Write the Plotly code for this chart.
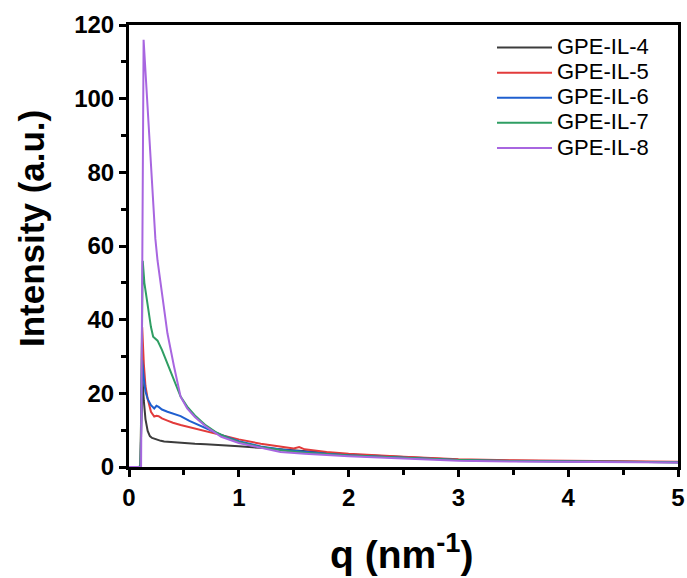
import plotly.graph_objects as go

q_il4 = [0, 0.09, 0.105, 0.12, 0.135, 0.15, 0.17, 0.19, 0.21, 0.25, 0.29, 0.32, 0.36, 0.40, 0.45, 0.50, 0.55, 0.60, 0.70, 0.84, 1.0, 1.2, 1.4, 1.6, 1.8, 2.0, 2.5, 3.0, 3.5, 4.0, 4.5, 5.0]
i_il4 = [0, 0, 0.3, 25, 18, 13, 9.8, 8.4, 7.9, 7.4, 7.1, 6.9, 6.8, 6.7, 6.6, 6.5, 6.4, 6.3, 6.2, 6.0, 5.6, 5.2, 4.7, 4.2, 3.8, 3.4, 2.7, 2.0, 1.7, 1.5, 1.4, 1.3]

q_il5 = [0, 0.09, 0.105, 0.12, 0.135, 0.15, 0.17, 0.20, 0.23, 0.25, 0.27, 0.30, 0.35, 0.40, 0.47, 0.55, 0.66, 0.75, 0.84, 1.0, 1.2, 1.4, 1.5, 1.55, 1.6, 1.8, 2.0, 2.5, 3.0, 3.5, 4.0, 4.5, 5.0]
i_il5 = [0, 0, 0.3, 38, 28, 22, 18.5, 15, 13.7, 13.9, 13.8, 13.2, 12.6, 12.0, 11.4, 10.8, 10.0, 9.2, 8.5, 7.5, 6.3, 5.4, 5.0, 5.4, 4.8, 4.1, 3.6, 2.8, 2.1, 1.8, 1.6, 1.5, 1.4]

q_il6 = [0, 0.09, 0.105, 0.12, 0.135, 0.15, 0.17, 0.20, 0.23, 0.25, 0.27, 0.30, 0.35, 0.40, 0.47, 0.55, 0.66, 0.75, 0.84, 1.0, 1.2, 1.4, 1.6, 1.8, 2.0, 2.5, 3.0, 3.5, 4.0, 4.5, 5.0]
i_il6 = [0, 0, 0.3, 29, 24, 20.5, 18.5, 16.8, 15.9, 16.6, 16.3, 15.6, 15.0, 14.5, 13.8, 12.5, 11.0, 9.8, 8.7, 7.0, 5.6, 4.7, 4.1, 3.6, 3.2, 2.5, 1.9, 1.6, 1.45, 1.35, 1.3]

q_il7 = [0, 0.09, 0.105, 0.125, 0.14, 0.16, 0.20, 0.22, 0.26, 0.30, 0.35, 0.41, 0.47, 0.53, 0.60, 0.70, 0.80, 0.90, 1.0, 1.2, 1.4, 1.6, 1.8, 2.0, 2.5, 3.0, 3.5, 4.0, 4.5, 5.0]
i_il7 = [0, 0, 0.3, 56, 50, 46, 38, 35.4, 34.3, 31.8, 28.2, 23.6, 19.1, 16.4, 14.0, 11.3, 9.3, 7.9, 6.8, 5.4, 4.5, 3.9, 3.5, 3.1, 2.5, 1.9, 1.6, 1.45, 1.35, 1.3]

q_il8 = [0, 0.11, 0.133, 0.18, 0.22, 0.24, 0.26, 0.31, 0.35, 0.41, 0.47, 0.53, 0.60, 0.70, 0.84, 1.0, 1.2, 1.38, 1.6, 1.8, 2.0, 2.5, 3.0, 3.5, 4.0, 4.5, 5.0]
i_il8 = [0, 0, 116, 92, 72.5, 62, 56, 45, 36.3, 27.3, 19.1, 15.9, 13.6, 11.0, 8.2, 6.5, 5.2, 4.1, 3.6, 3.2, 2.9, 2.3, 1.7, 1.5, 1.35, 1.25, 1.2]

series = [
    ("GPE-IL-4", q_il4, i_il4, "#3c3c3c"),
    ("GPE-IL-5", q_il5, i_il5, "#e23b3b"),
    ("GPE-IL-6", q_il6, i_il6, "#1f5fcf"),
    ("GPE-IL-7", q_il7, i_il7, "#2f9e63"),
    ("GPE-IL-8", q_il8, i_il8, "#a866e0"),
]

FONT = "Liberation Sans, Arial"

fig = go.Figure()
for name, xs, ys, col in series:
    fig.add_trace(go.Scatter(x=xs, y=ys, mode="lines",
                             name='<span style="font-size:22px">' + name + '</span>',
                             line=dict(color=col, width=2)))

axis_common = dict(
    showline=True, linecolor="black", linewidth=3, mirror=True,
    ticks="outside", ticklen=7, tickwidth=3, tickcolor="black",
    showgrid=False, zeroline=False, automargin=False,
    tickfont=dict(family=FONT, size=24, color="black", weight="bold"),
)

fig.update_xaxes(range=[0, 5], dtick=1, tick0=0,
                 minor=dict(ticks="outside", ticklen=5, tickwidth=3, tickcolor="black", dtick=0.5),
                 **axis_common)
fig.update_yaxes(range=[0, 120], dtick=20, tick0=0,
                 minor=dict(ticks="outside", ticklen=5, tickwidth=3, tickcolor="black", dtick=10),
                 **axis_common)

L, R, T, B = 129, 9, 25, 111
W, H = 687, 578
pw, ph = W - L - R, H - T - B

fig.update_layout(
    width=W, height=H,
    margin=dict(l=L, r=R, t=T, b=B),
    plot_bgcolor="white", paper_bgcolor="white",
    showlegend=True,
    legend=dict(x=(492 - L) / pw, y=(H - B - 30) / ph, xanchor="left", yanchor="top",
                bgcolor="rgba(0,0,0,0)", borderwidth=0,
                font=dict(family=FONT, size=17, color="black"),
                tracegroupgap=0, itemwidth=55),
    annotations=[
        dict(text="Intensity (a.u.)", textangle=-90, showarrow=False,
             xref="paper", yref="paper", x=(31 - L) / pw, y=(H - B - 229) / ph,
             xanchor="center", yanchor="middle",
             font=dict(family=FONT, size=35, color="black", weight="bold")),
        dict(text="q (nm<sup>-1</sup>)", showarrow=False,
             xref="paper", yref="paper", x=(401.5 - L) / pw, y=(H - B - 551) / ph,
             xanchor="center", yanchor="middle",
             font=dict(family=FONT, size=39, color="black", weight="bold")),
    ],
)

fig.write_html("out.html")
